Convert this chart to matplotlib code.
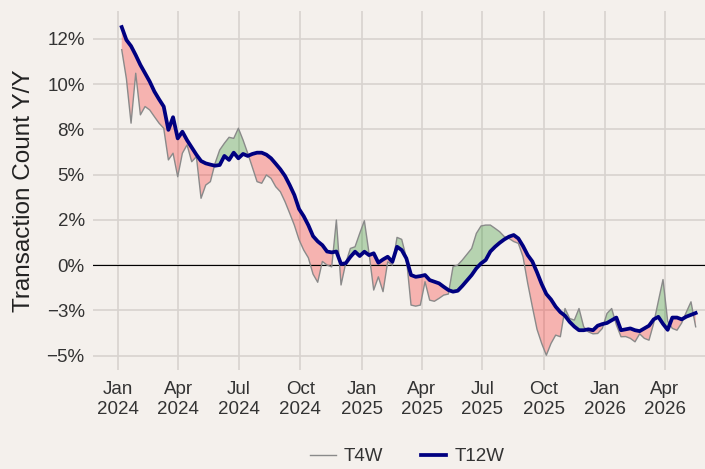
import matplotlib
matplotlib.use("Agg")
import matplotlib.pyplot as plt
import pandas as pd
import numpy as np

plt.rcParams['font.family'] = ['Liberation Sans', 'DejaVu Sans']

start_date = "2024-01-07"

t12w = [13.15, 12.44, 12.1, 11.6, 11.06, 10.6, 10.14, 9.59, 9.16, 8.76,
        7.47, 8.17, 7.0, 7.37, 6.9, 6.5, 6.1, 5.75, 5.62, 5.55,
        5.49, 5.53, 6.03, 5.81, 6.21, 5.9, 6.14, 6.03, 6.14, 6.21,
        6.21, 6.1, 5.9, 5.6, 5.29, 4.92, 4.42, 3.87, 3.1, 2.7,
        2.2, 1.6, 1.31, 1.1, 0.75, 0.7, 0.75, 0.06, 0.1, 0.45,
        0.74, 0.5, 0.74, 0.55, 0.65, 0.13, 0.31, 0.46, 0.18, 1.01,
        0.83, 0.37, -0.55, -0.65, -0.61, -0.55, -0.83, -0.92, -1.01, -1.2,
        -1.38, -1.47, -1.42, -1.15, -0.85, -0.55, -0.18, 0.09, 0.28, 0.75,
        1.01, 1.23, 1.42, 1.57, 1.66, 1.47, 1.05, 0.55, 0.2, -0.4,
        -1.05, -1.6, -1.9, -2.3, -2.6, -2.8, -3.14, -3.4, -3.6, -3.6,
        -3.55, -3.6, -3.35, -3.26, -3.2, -3.05, -2.9, -3.6, -3.55, -3.5,
        -3.6, -3.65, -3.5, -3.35, -3.0, -2.86, -3.25, -3.58, -2.9, -2.9,
        -3.0, -2.85, -2.75, -2.65]

t4w = [11.9, 10.3, 7.84, 10.6, 8.3, 8.76, 8.57, 8.2, 7.84, 7.56,
       5.81, 6.18, 4.88, 6.18, 6.64, 5.71, 5.99, 3.69, 4.42, 4.61,
       5.62, 6.36, 6.73, 7.06, 7.0, 7.56, 6.91, 6.18, 5.4, 4.61,
       4.52, 4.98, 4.79, 4.33, 4.05, 3.5, 2.86, 2.2, 1.4, 0.83,
       0.4, -0.5, -0.95, 0.2, 0.0, -0.1, 2.49, -1.1, 0.1, 0.92,
       1.01, 1.75, 2.45, 0.65, -1.38, -0.65, -1.47, 0.18, 0.0, 1.53,
       1.42, 0.4, -2.21, -2.27, -2.21, -0.92, -1.94, -2.0, -1.84, -1.66,
       -1.6, -0.09, 0.0, 0.28, 0.6, 0.92, 1.75, 2.16, 2.21, 2.21,
       2.03, 1.84, 1.57, 1.47, 1.3, 1.2, 0.46, -1.0, -2.3, -3.55,
       -4.33, -4.98, -4.33, -3.87, -3.96, -2.4, -2.95, -3.04, -2.4, -3.41,
       -3.69, -3.8, -3.78, -3.5, -2.67, -2.4, -3.3, -3.96, -3.95, -4.05,
       -4.24, -3.8, -4.05, -4.15, -3.22, -2.0, -0.8, -3.1, -3.5, -3.6,
       -3.2, -2.6, -2.03, -3.41]

ytick_vals = [-5, -2.5, 0, 2.5, 5, 7.5, 10, 12.5]
ytick_labels = ["\u22125%", "\u22123%", "0%", "2%", "5%", "8%", "10%", "12%"]

xtick_dates = ["2024-01-01", "2024-04-01", "2024-07-01", "2024-10-01",
               "2025-01-01", "2025-04-01", "2025-07-01", "2025-10-01",
               "2026-01-01", "2026-04-01"]
xtick_labels = ["Jan\n2024", "Apr\n2024", "Jul\n2024", "Oct\n2024",
                "Jan\n2025", "Apr\n2025", "Jul\n2025", "Oct\n2025",
                "Jan\n2026", "Apr\n2026"]

dates = pd.date_range(start_date, periods=len(t12w), freq="7D")
a12 = np.array(t12w)
a4 = np.array(t4w)

bg = "#F4F0EC"
fig = plt.figure(figsize=(7.05, 4.69), dpi=100, facecolor=bg)
ax = fig.add_axes([0.132, 0.211, 0.868, 0.766], facecolor=bg)

ax.fill_between(dates, a4, a12, where=a4 >= a12, interpolate=True,
                color="green", alpha=0.25, linewidth=0)
ax.fill_between(dates, a4, a12, where=a4 < a12, interpolate=True,
                color="red", alpha=0.25, linewidth=0)
ax.axhline(0, color="black", linewidth=0.8, zorder=2)
ax.plot(dates, a4, color="#8a8a8a", linewidth=1.0, label="T4W", zorder=3)
ax.plot(dates, a12, color="#000080", linewidth=2.7, label="T12W", zorder=4)

ax.set_ylim(-5.8, 14.05)
ax.set_xlim(pd.Timestamp("2023-11-25"), pd.Timestamp("2026-05-31"))
ax.set_yticks(ytick_vals)
ax.set_yticklabels(ytick_labels)
ax.set_xticks(pd.to_datetime(xtick_dates))
ax.set_xticklabels(xtick_labels)

ax.grid(True, color="#D8D3CF", linewidth=1.2)
ax.set_axisbelow(True)
for s in ax.spines.values():
    s.set_visible(False)
ax.tick_params(axis="both", length=0, labelsize=13.5, colors="#333333", pad=6)
ax.tick_params(axis="x", pad=8)
ax.set_ylabel("Transaction Count Y/Y", fontsize=17.5, color="#222222", labelpad=8)

leg = fig.legend(loc="center", bbox_to_anchor=(0.578, 0.026), ncol=2, frameon=False,
                 fontsize=13.5, handlelength=1.35, handletextpad=0.45,
                 columnspacing=2.0)
for t in leg.get_texts():
    t.set_color("#333333")

fig.savefig("out.png", dpi=100, facecolor=bg)
